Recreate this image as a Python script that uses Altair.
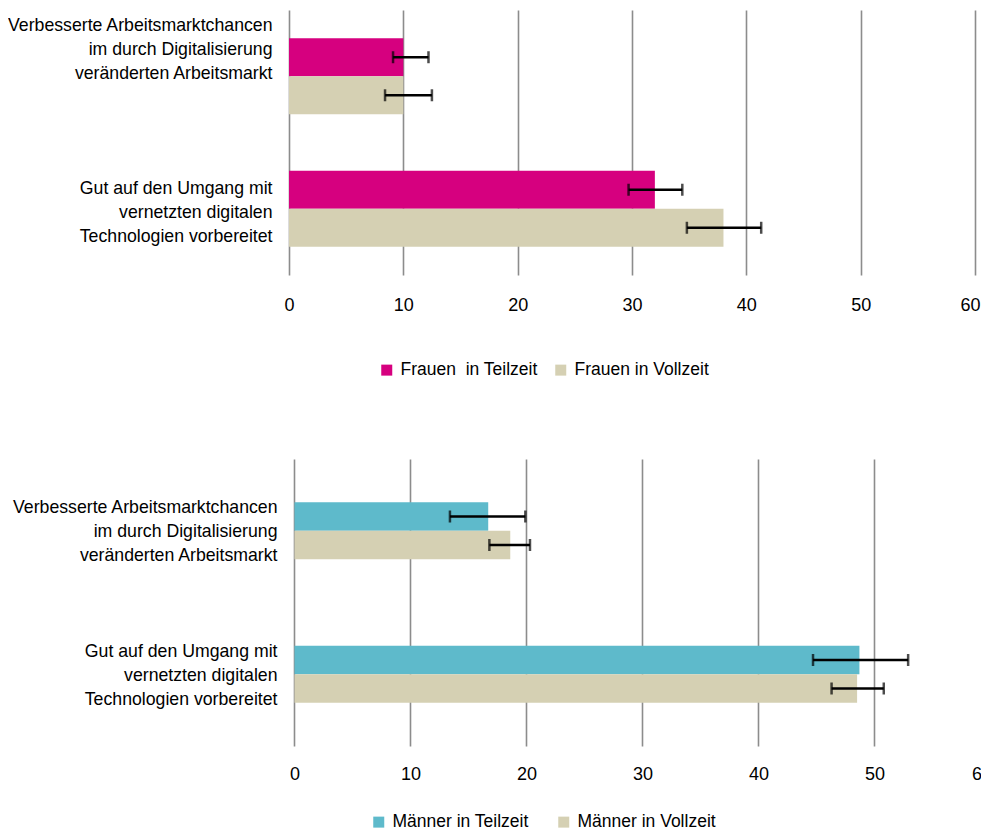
import altair as alt
import pandas as pd

FONT = "Liberation Sans, Arial, sans-serif"

categories = [
    "Verbesserte Arbeitsmarktchancen|im durch Digitalisierung|veränderten Arbeitsmarkt\u00a0",
    "Gut auf den Umgang mit|vernetzten digitalen\u00a0\u00a0|Technologien vorbereitet",
]

# Frauen
frauen_series = ["Frauen\u00a0 in Teilzeit", "Frauen in Vollzeit"]
frauen_colors = ["#D6007F", "#D5D0B3"]
frauen_tz = [10.0, 32.0]
frauen_tz_lo = [9.1, 29.7]
frauen_tz_hi = [12.2, 34.4]
frauen_vz = [10.0, 38.0]
frauen_vz_lo = [8.4, 34.8]
frauen_vz_hi = [12.5, 41.3]

# Männer
maenner_series = ["Männer in Teilzeit", "Männer in Vollzeit"]
maenner_colors = ["#5EBACB", "#D5D0B3"]
maenner_tz = [16.7, 48.7]
maenner_tz_lo = [13.4, 44.7]
maenner_tz_hi = [19.9, 52.9]
maenner_vz = [18.6, 48.5]
maenner_vz_lo = [16.8, 46.3]
maenner_vz_hi = [20.3, 50.8]

x_ticks = [0, 10, 20, 30, 40, 50, 60]


def make_df(series, tz, tz_lo, tz_hi, vz, vz_lo, vz_hi):
    rows = []
    for i, c in enumerate(categories):
        rows.append({"cat": c, "series": series[0], "value": tz[i], "lo": tz_lo[i], "hi": tz_hi[i]})
        rows.append({"cat": c, "series": series[1], "value": vz[i], "lo": vz_lo[i], "hi": vz_hi[i]})
    return pd.DataFrame(rows)


def panel(df, series, colors, width, height, domain, p_inner, p_outer,
          legend_x, legend_y, col_pad, label_pad_y, label_pad_x, first_offset, other_offset,
          last_x_offset):
    y_axis = alt.Axis(
        labelExpr="split(datum.label, '|')",
        labelFont=FONT, labelFontSize=17.7, labelLineHeight=24, labelColor="#000000",
        domain=False, ticks=False, grid=False, labelPadding=label_pad_y, labelLimit=500,
        labelOffset={"condition": {"test": "indexof(datum.value, 'Verbesserte') == 0",
                                   "value": first_offset}, "value": other_offset},
    )
    y = alt.Y("cat:N", sort=categories, title=None,
              scale=alt.Scale(paddingInner=p_inner, paddingOuter=p_outer), axis=y_axis)
    yoff = alt.YOffset("series:N", sort=series,
                       scale=alt.Scale(domain=series, paddingInner=0, paddingOuter=0))
    x_scale = alt.Scale(domain=domain, nice=False, zero=False)
    x_axis = alt.Axis(values=x_ticks, grid=True, gridColor="#8C8C8C", gridWidth=1.6,
                      domain=False, ticks=False, labelFont=FONT, labelFontSize=18,
                      labelColor="#000000", labelPadding=label_pad_x, labelFlush=False,
                      labelOffset={"condition": {"test": "datum.value == 60",
                                                 "value": last_x_offset}, "value": 0})

    bars = alt.Chart(df).mark_bar().encode(
        y=y, yOffset=yoff,
        x=alt.X("value:Q", scale=x_scale, axis=x_axis, title=None),
        x2=alt.datum(0),
        color=alt.Color("series:N", sort=series,
                        scale=alt.Scale(domain=series, range=colors),
                        legend=alt.Legend(orient="none", legendX=legend_x, legendY=legend_y,
                                          direction="horizontal", title=None,
                                          symbolType="square", symbolSize=121,
                                          symbolStrokeWidth=0, labelFont=FONT,
                                          labelFontSize=17.5, labelColor="#000000",
                                          labelOffset=5, columnPadding=col_pad,
                                          padding=0, labelLimit=400)),
    )
    rules = alt.Chart(df).mark_rule(color="#000000", strokeWidth=2.3).encode(
        y=y, yOffset=yoff,
        x=alt.X("lo:Q", scale=x_scale, axis=x_axis, title=None),
        x2="hi:Q",
    )
    cap_lo = alt.Chart(df).mark_tick(color="#000000", thickness=2.5, size=12).encode(
        y=y, yOffset=yoff,
        x=alt.X("lo:Q", scale=x_scale, axis=x_axis, title=None),
    )
    cap_hi = alt.Chart(df).mark_tick(color="#000000", thickness=2.5, size=12).encode(
        y=y, yOffset=yoff,
        x=alt.X("hi:Q", scale=x_scale, axis=x_axis, title=None),
    )
    return alt.layer(bars, rules, cap_lo, cap_hi).properties(width=width, height=height)


df_f = make_df(frauen_series, frauen_tz, frauen_tz_lo, frauen_tz_hi,
               frauen_vz, frauen_vz_lo, frauen_vz_hi)
df_m = make_df(maenner_series, maenner_tz, maenner_tz_lo, maenner_tz_hi,
               maenner_vz, maenner_vz_lo, maenner_vz_hi)

top = panel(df_f, frauen_series, frauen_colors, 686, 265, [0, 60], 0.426, 0.213,
            89, 351, 14, 17, 21, -50, -20, -5)
bottom = panel(df_m, maenner_series, maenner_colors, 701.5, 287, [-0.474, 60], 0.603, 0.3015,
               81, 354, 26, 12, 19, -23, -22, -9)

chart = alt.vconcat(top, bottom, spacing=80).resolve_scale(
    color="independent", x="independent", y="independent", yOffset="independent"
).properties(
    autosize=alt.AutoSizeParams(type="none"),
    padding={"left": 281, "top": 2, "right": 692, "bottom": 824},
    background="white",
).configure_view(stroke=None)

chart.save("out.html", embed_options={"renderer": "svg", "actions": False})
